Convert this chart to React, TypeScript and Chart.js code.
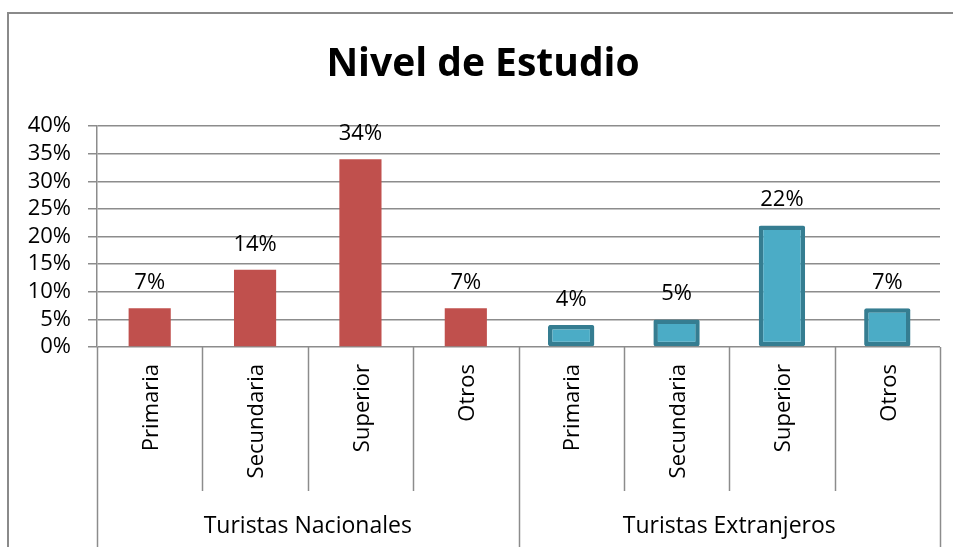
import React, { useEffect, useRef } from 'react';
import { Chart, registerables } from 'chart.js';

Chart.register(...registerables);

const TITLE = 'Nivel de Estudio';
const categories = ['Primaria', 'Secundaria', 'Superior', 'Otros', 'Primaria', 'Secundaria', 'Superior', 'Otros'];
const groups = ['Turistas Nacionales', 'Turistas Extranjeros'];
const groupSize = 4;
const nacionales: (number | null)[] = [7, 14, 34, 7, null, null, null, null];
const extranjeros: (number | null)[] = [null, null, null, null, 4, 5, 22, 7];
const yMin = 0;
const yMax = 40;
const yStep = 5;

const FONT = "'Open Sans', 'DejaVu Sans', sans-serif";
const GRID = '#8c8c8c';

const overlayPlugin = {
  id: 'overlay',
  afterDraw(chart: any) {
    const ctx = chart.ctx;
    const area = chart.chartArea;
    const xs = chart.scales.x;
    const n = categories.length;
    const H = chart.height;
    ctx.save();

    // title
    ctx.fillStyle = '#000';
    ctx.font = `bold 39px ${FONT}`;
    ctx.textAlign = 'center';
    ctx.textBaseline = 'alphabetic';
    ctx.fillText(TITLE, 483, 76);

    // boundaries
    const centers = categories.map((_, i) => xs.getPixelForValue(i));
    const bounds: number[] = [];
    for (let i = 0; i <= n; i++) {
      if (i === 0) bounds.push(area.left);
      else if (i === n) bounds.push(area.right);
      else bounds.push((centers[i - 1] + centers[i]) / 2);
    }
    ctx.strokeStyle = GRID;
    ctx.lineWidth = 1.5;
    bounds.forEach((bx, i) => {
      const full = i % groupSize === 0;
      ctx.beginPath();
      ctx.moveTo(Math.round(bx) + 0.5, area.bottom);
      ctx.lineTo(Math.round(bx) + 0.5, full ? H : area.bottom + 144);
      ctx.stroke();
    });

    // rotated category labels
    ctx.font = `22px ${FONT}`;
    ctx.fillStyle = '#000';
    categories.forEach((c, i) => {
      ctx.save();
      ctx.translate(centers[i] + 2, area.bottom + 17);
      ctx.rotate(-Math.PI / 2);
      ctx.textAlign = 'right';
      ctx.textBaseline = 'middle';
      ctx.fillText(c, 0, 0);
      ctx.restore();
    });

    // group labels
    ctx.font = `23px ${FONT}`;
    ctx.textAlign = 'center';
    ctx.textBaseline = 'middle';
    groups.forEach((g, gi) => {
      const l = bounds[gi * groupSize];
      const r = bounds[(gi + 1) * groupSize];
      ctx.fillText(g, (l + r) / 2, 526);
    });

    // data labels
    ctx.font = `22px ${FONT}`;
    ctx.textAlign = 'center';
    ctx.textBaseline = 'alphabetic';
    chart.data.datasets.forEach((ds: any, di: number) => {
      const meta = chart.getDatasetMeta(di);
      meta.data.forEach((el: any, i: number) => {
        const v = ds.data[i];
        if (v === null || v === undefined) return;
        ctx.fillText(`${v}%`, el.x, el.y - 19);
      });
    });

    ctx.restore();
  },
};

export default function App() {
  const ref = useRef<HTMLCanvasElement>(null);

  useEffect(() => {
    if (!ref.current) return;
    const chart = new Chart(ref.current, {
      type: 'bar',
      data: {
        labels: categories,
        datasets: [
          {
            label: groups[0],
            data: nacionales,
            backgroundColor: '#C0504D',
            borderWidth: 0,
            barPercentage: 0.4,
            categoryPercentage: 1,
          },
          {
            label: groups[1],
            data: extranjeros,
            backgroundColor: '#4BACC6',
            borderColor: '#357D91',
            borderWidth: 4.5,
            borderRadius: 2,
            borderSkipped: false,
            barPercentage: 0.44,
            categoryPercentage: 1,
          },
        ],
      },
      options: {
        responsive: false,
        animation: false,
        grouped: false,
        layout: { padding: { top: 126, bottom: 200, right: 13, left: 0 } },
        plugins: {
          legend: { display: false },
          title: { display: false },
          tooltip: { enabled: false },
        },
        scales: {
          x: { display: false, offset: true },
          y: {
            min: yMin,
            max: yMax,
            ticks: {
              stepSize: yStep,
              autoSkip: false,
              callback: (v: any) => `${v}%`,
              color: '#000',
              font: { family: FONT, size: 22 },
              padding: 17,
            },
            grid: { color: GRID, lineWidth: 1.5, tickLength: 9, drawTicks: true },
            border: { display: true, color: GRID, width: 1.5 },
            afterFit: (s: any) => {
              s.width = 97;
            },
          },
        },
      } as any,
      plugins: [overlayPlugin],
    });
    return () => chart.destroy();
  }, []);

  return (
    <div
      style={{
        position: 'fixed',
        left: 0,
        top: 0,
        width: 953,
        height: 547,
        overflow: 'hidden',
        background: '#fff',
      }}
    >
      <canvas ref={ref} width={953} height={547} style={{ position: 'absolute', left: 0, top: 0 }} />
      <div
        style={{
          position: 'absolute',
          left: 7,
          top: 12,
          width: 980,
          height: 600,
          border: '2px solid #8a8a8a',
          pointerEvents: 'none',
        }}
      />
    </div>
  );
}
